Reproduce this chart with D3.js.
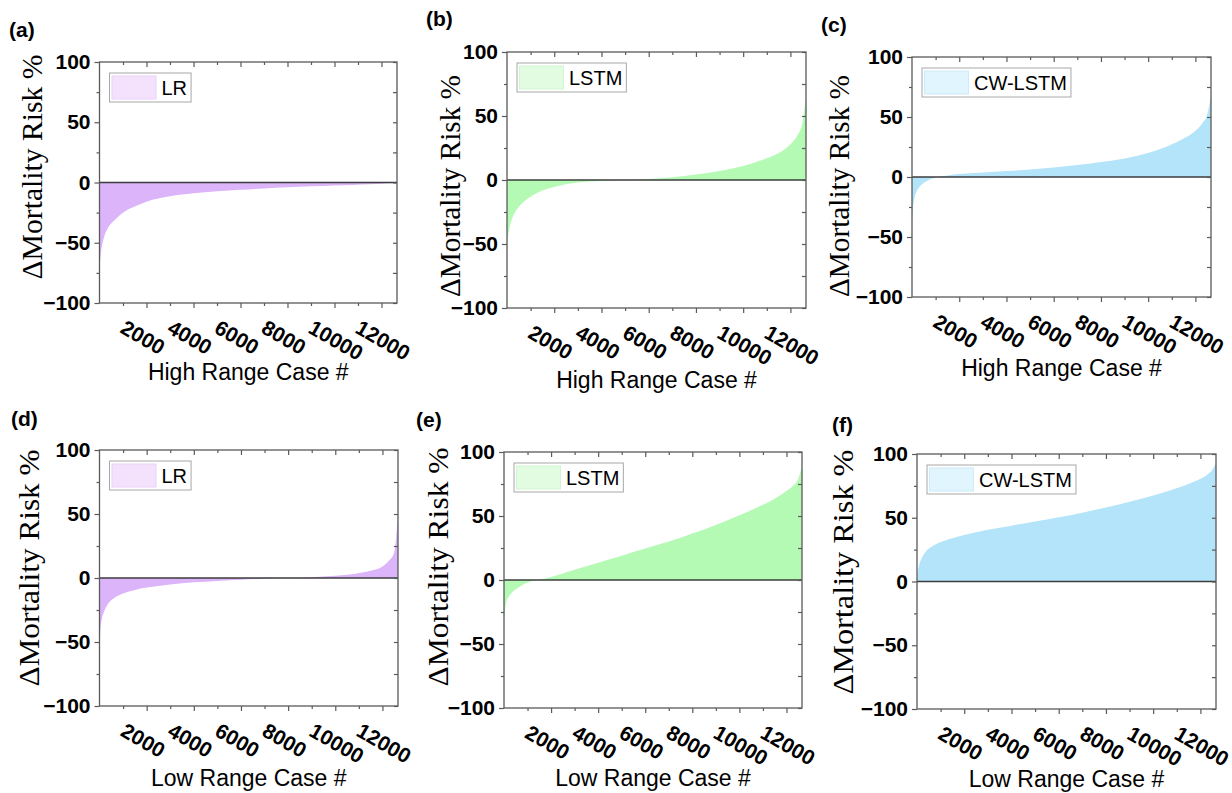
<!DOCTYPE html>
<html>
<head>
<meta charset="utf-8">
<script src="https://cdn.jsdelivr.net/npm/d3@7"></script>
<style>
  body { margin: 0; background: #ffffff; }
  svg { display: block; }
</style>
</head>
<body>
<svg id="fig" width="1232" height="793"></svg>
<script>
// Sorted change in mortality risk (%) per case, sampled along the case index.
const caseNumbers = [0, 40, 100, 200, 350, 600, 1000, 1500, 2000, 3000, 4000, 5000,
                     6000, 7000, 8000, 9000, 10000, 10800, 11500, 12000, 12300, 12500, 12660];

const lrHighRisk     = [-72, -62, -53, -45, -38, -32, -25, -20, -16, -11.5, -9, -7.2,
                        -6, -5, -4, -3.2, -2.5, -2, -1.4, -1, -0.7, -0.4, 0];
const lstmHighRisk   = [-55, -45, -38, -31, -25, -19, -13, -8.2, -5.5, -2, -0.7, 0,
                        0.7, 2.2, 4.2, 7, 11, 15.6, 21, 28, 35, 44, 65];
const cwlstmHighRisk = [-38, -27, -18, -12, -7.5, -3.8, -0.5, 1.3, 2.4, 3.7, 4.9, 6.2,
                        8, 9.9, 12.5, 15.5, 20, 25.5, 32, 38.5, 45, 52, 68];
const lrLowRisk      = [-52, -40, -32, -26, -20.5, -16, -12.2, -9.3, -7.5, -5, -3.4, -2.3,
                        -1.3, -0.6, 0, 0.6, 1.7, 3.2, 5.6, 9, 14, 20, 50];
const lstmLowRisk    = [-33, -24, -17, -13, -9.5, -6, -2, 0.2, 2.4, 8, 13.5, 19,
                        24.6, 30, 36.3, 43, 50.5, 57, 63.5, 69.5, 74, 79, 89];
const cwlstmLowRisk  = [1, 8, 13.5, 18.5, 23, 27, 31, 34, 36.5, 40.5, 43.8, 47,
                        50.3, 54, 58, 62.5, 67.5, 72, 76.5, 80.5, 84, 87.5, 93];

const xMajorTicks = [2000, 4000, 6000, 8000, 10000, 12000];
const xMinorTicks = [1000, 3000, 5000, 7000, 9000, 11000];
const yMajorTicks = [-100, -50, 0, 50, 100];
const yMinorTicks = [-75, -25, 25, 75];
const xDomain = [0, 12660];
const yDomain = [-100, 100];

const panelTags  = ["(a)", "(b)", "(c)", "(d)", "(e)", "(f)"];
const modelNames = ["LR", "LSTM", "CW-LSTM", "LR", "LSTM", "CW-LSTM"];
const xTitles    = ["High Range Case #", "High Range Case #", "High Range Case #",
                    "Low Range Case #", "Low Range Case #", "Low Range Case #"];
const yTitle     = "\u0394Mortality Risk %";
const riskSeries = [lrHighRisk, lstmHighRisk, cwlstmHighRisk, lrLowRisk, lstmLowRisk, cwlstmLowRisk];

// Colours per model: area fill, legend swatch fill, legend swatch edge
const modelFill   = { "LR": "#dbb4fa", "LSTM": "#b4fab4", "CW-LSTM": "#b4e4fa" };
const swatchFill  = { "LR": "#f4e2fd", "LSTM": "#e2fce2", "CW-LSTM": "#e0f5fd" };
const swatchEdge  = { "LR": "#ead2f8", "LSTM": "#d2f4d2", "CW-LSTM": "#cdebf8" };

// Pixel layout of each sub-plot
const layout = [
  { L: 99.5, R: 397, T: 62,  B: 303, tagX: 9,   tagY: 37,  yLabX: 42,  yLabC: 167, yLabLen: 225, xTitleY: 380 },
  { L: 507,  R: 806, T: 52,  B: 308, tagX: 426, tagY: 26,  yLabX: 460, yLabC: 186, yLabLen: 222, xTitleY: 388 },
  { L: 912,  R: 1211, T: 57, B: 297, tagX: 821, tagY: 32,  yLabX: 849, yLabC: 186, yLabLen: 222, xTitleY: 376 },
  { L: 99.5, R: 398, T: 450, B: 706, tagX: 11,  tagY: 426, yLabX: 39,  yLabC: 568, yLabLen: 237, xTitleY: 786 },
  { L: 504,  R: 802, T: 452, B: 708, tagX: 416, tagY: 427, yLabX: 448, yLabC: 567, yLabLen: 239, xTitleY: 786 },
  { L: 917,  R: 1216, T: 454, B: 709, tagX: 832, tagY: 432, yLabX: 853, yLabC: 572, yLabLen: 245, xTitleY: 787 }
];

const sans = "'Liberation Sans', Arial, Helvetica, sans-serif";
const serif = "'Liberation Serif', 'Times New Roman', serif";
const axisColor = "#5a5a5a";
const fmt = d3.format("d");

const svg = d3.select("#fig");

layout.forEach((p, i) => {
  const model = modelNames[i];
  const values = riskSeries[i];
  const data = caseNumbers.map((c, k) => ({ c, v: values[k] }));

  const x = d3.scaleLinear().domain(xDomain).range([p.L, p.R]);
  const y = d3.scaleLinear().domain(yDomain).range([p.B, p.T]);

  const g = svg.append("g").attr("class", "panel");

  const clipId = "clip" + i;
  g.append("clipPath").attr("id", clipId)
    .append("rect").attr("x", p.L).attr("y", p.T).attr("width", p.R - p.L).attr("height", p.B - p.T);

  // Filled area between zero and the sorted risk curve
  const area = d3.area()
    .x(d => x(d.c))
    .y0(y(0))
    .y1(d => y(d.v))
    .curve(d3.curveMonotoneX);

  g.append("path")
    .datum(data)
    .attr("clip-path", `url(#${clipId})`)
    .attr("d", area)
    .attr("fill", modelFill[model])
    .attr("stroke", "none");

  // Zero reference line
  g.append("line")
    .attr("x1", p.L).attr("x2", p.R)
    .attr("y1", y(0)).attr("y2", y(0))
    .attr("stroke", "#3c3c3c").attr("stroke-width", 1.3);

  // Axes: left & bottom ticks point outward, top & right ticks point inward
  const styleAxis = sel => {
    sel.select(".domain").remove();
    sel.selectAll(".tick line").attr("stroke", axisColor).attr("stroke-width", 1.2);
  };

  g.append("g").attr("transform", `translate(${p.L},0)`)
    .call(d3.axisLeft(y).tickValues(yMajorTicks).tickSize(5).tickPadding(4).tickFormat(fmt))
    .call(styleAxis)
    .call(s => s.selectAll("text")
      .attr("fill", "#000").attr("font-family", sans).attr("font-weight", "bold").attr("font-size", 21));

  g.append("g").attr("transform", `translate(${p.L},0)`)
    .call(d3.axisLeft(y).tickValues(yMinorTicks).tickSize(3).tickFormat(""))
    .call(styleAxis);

  g.append("g").attr("transform", `translate(${p.R},0)`)
    .call(d3.axisRight(y).tickValues(yMajorTicks.concat(yMinorTicks)).tickSize(-4).tickFormat(""))
    .call(styleAxis);

  g.append("g").attr("transform", `translate(0,${p.T})`)
    .call(d3.axisTop(x).tickValues(xMajorTicks).tickSize(-5).tickFormat(""))
    .call(styleAxis);
  g.append("g").attr("transform", `translate(0,${p.T})`)
    .call(d3.axisTop(x).tickValues(xMinorTicks).tickSize(-3).tickFormat(""))
    .call(styleAxis);

  g.append("g").attr("transform", `translate(0,${p.B})`)
    .call(d3.axisBottom(x).tickValues(xMinorTicks).tickSize(3).tickFormat(""))
    .call(styleAxis);

  g.append("g").attr("transform", `translate(0,${p.B})`)
    .call(d3.axisBottom(x).tickValues(xMajorTicks).tickSize(5).tickFormat(fmt))
    .call(styleAxis)
    .call(s => s.selectAll("text")
      .attr("x", 0).attr("y", 0).attr("dy", 0)
      .attr("text-anchor", "start")
      .attr("transform", "translate(-28,29) rotate(30)")
      .attr("fill", "#000").attr("font-family", sans).attr("font-weight", "bold").attr("font-size", 21));

  // Plot frame
  g.append("rect")
    .attr("x", p.L).attr("y", p.T).attr("width", p.R - p.L).attr("height", p.B - p.T)
    .attr("fill", "none").attr("stroke", axisColor).attr("stroke-width", 1.3);

  // Legend
  const lx = p.L + 10, ly = p.T + 11;
  const leg = g.append("g").attr("transform", `translate(${lx},${ly})`);
  const box = leg.append("rect").attr("x", 0).attr("y", 0).attr("height", 29)
    .attr("fill", "#fff").attr("stroke", "#a8a8a8").attr("stroke-width", 1);
  leg.append("rect").attr("x", 2.5).attr("y", 3).attr("width", 44).attr("height", 23)
    .attr("fill", swatchFill[model]).attr("stroke", swatchEdge[model]).attr("stroke-width", 1);
  const lt = leg.append("text").attr("x", 52).attr("y", 22)
    .attr("font-family", sans).attr("font-size", 20).attr("fill", "#000")
    .text(model);
  box.attr("width", 52 + lt.node().getComputedTextLength() + 4);

  // Axis titles
  g.append("text")
    .attr("x", (p.L + p.R) / 2).attr("y", p.xTitleY)
    .attr("text-anchor", "middle")
    .attr("font-family", sans).attr("font-size", 23).attr("fill", "#000")
    .text(xTitles[i]);

  g.append("text")
    .attr("transform", `translate(${p.yLabX},${p.yLabC}) rotate(-90)`)
    .attr("text-anchor", "middle")
    .attr("font-family", serif).attr("font-size", 30).attr("fill", "#000")
    .attr("textLength", p.yLabLen).attr("lengthAdjust", "spacingAndGlyphs")
    .text(yTitle);

  // Panel tag
  g.append("text")
    .attr("x", p.tagX).attr("y", p.tagY)
    .attr("font-family", sans).attr("font-weight", "bold").attr("font-size", 21).attr("fill", "#000")
    .text(panelTags[i]);
});
</script>
</body>
</html>
